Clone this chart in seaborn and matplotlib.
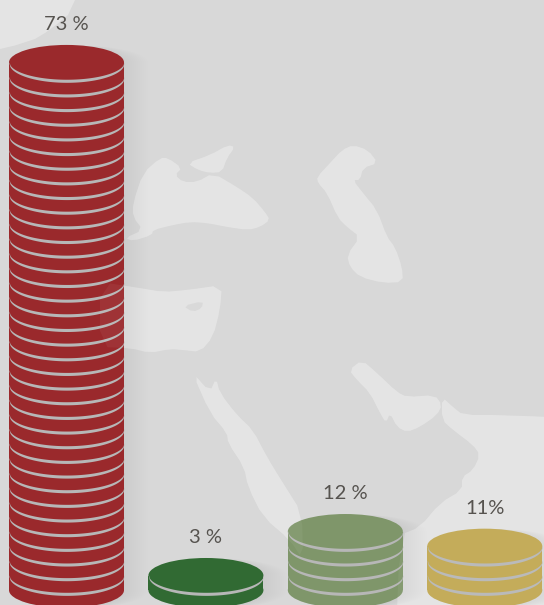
import numpy as np
import pandas as pd
import seaborn as sns
import matplotlib
matplotlib.use("Agg")
import matplotlib.pyplot as plt
from matplotlib.patches import Ellipse, Polygon

# chart values
labels = ["73 %", "3 %", "12 %", "11%"]
coins = [36, 1, 4, 3]
colors = ["#9a292c", "#316a33", "#7f966a", "#c1a852"]

BG = "#d8d8d8"
MAP = "#e3e3e3"
LINE = "#b7b7b7"
TEXT = "#56534f"
W, H = 544, 605

# background map, traced in image pixels (not data)
top_left = [(-30, -30), (78, -30), (74, 10), (50, 30), (30, 42), (-30, 56)]
black_sea = [(125, 238), (143, 230), (133, 217), (133, 203), (143, 173), (160, 158), (168, 158),
             (182, 168), (175, 175), (183, 182), (197, 182), (213, 173), (237, 187), (253, 198),
             (265, 212), (270, 220), (260, 227), (248, 230), (227, 227), (207, 223), (190, 222),
             (173, 225), (153, 230), (152, 235), (133, 241)]
azov = [(187, 163), (210, 155), (228, 145), (235, 147), (227, 158), (222, 172), (210, 173), (198, 170)]
med_sea = [(100, 282), (140, 288), (163, 292), (187, 290), (222, 285), (220, 310), (213, 337),
           (200, 352), (183, 350), (170, 349), (150, 353), (130, 348), (100, 347)]
cyprus = [(183, 306), (203, 301), (202, 308), (193, 312)]
caspian = [(317, 177), (330, 163), (342, 150), (353, 145), (368, 150), (378, 163), (363, 168),
           (360, 180), (353, 180), (363, 193), (377, 210), (387, 237), (395, 247), (402, 267),
           (403, 282), (383, 283), (360, 277), (350, 267), (347, 255), (360, 237), (347, 227),
           (338, 218), (327, 193), (318, 183)]
red_sea = [(192, 372), (210, 392), (216, 378), (220, 393), (237, 415), (253, 430), (267, 457),
           (283, 483), (302, 513), (303, 560), (290, 540), (263, 517), (248, 487), (244, 467),
           (228, 443), (227, 433), (210, 413)]
gulf = [(349, 370), (362, 360), (377, 373), (397, 392), (407, 397), (435, 395), (442, 405),
        (437, 415), (420, 427), (407, 432), (397, 427), (390, 413), (386, 423), (380, 413),
        (370, 393), (357, 380)]
ocean = [(442, 397), (453, 407), (463, 415), (503, 415), (620, 420), (620, 660), (395, 660),
         (400, 535), (420, 527), (440, 503), (462, 490), (462, 477), (473, 470), (480, 455),
         (473, 445), (453, 430), (442, 420)]
map_shapes = [top_left, black_sea, azov, med_sea, caspian, red_sea, gulf, ocean]

df = pd.DataFrame({"label": labels, "coins": coins})

sns.set_theme(style="white")
plt.rcParams["font.family"] = ["Lato", "DejaVu Sans"]

fig, ax = plt.subplots(figsize=(W / 100, H / 100), dpi=100)
fig.subplots_adjust(0, 0, 1, 1)
fig.patch.set_facecolor(BG)
ax.set_facecolor(BG)

sns.barplot(data=df, x="label", y="coins", hue="label", palette=colors, dodge=False,
            legend=False, width=0.825, saturation=1, linewidth=0, zorder=5, ax=ax)
ax.set_xlim(-0.477, 3.425)
ax.set_ylim(-1.012, 40.26)
ax.axis("off")

# one container per hue level, each holding the single bar
bars = [c[0] for c in ax.containers]


# round off the traced corners
def smooth(shape, passes=1):
    pts = np.array(shape, dtype=float)
    for _ in range(passes):
        nxt = np.roll(pts, -1, axis=0)
        pts = np.column_stack([0.75 * pts + 0.25 * nxt, 0.25 * pts + 0.75 * nxt]).reshape(-1, 2)
    return pts


def to_axes(shape):
    pts = smooth(shape)
    return np.column_stack([pts[:, 0] / W, 1 - pts[:, 1] / H])


for shape in map_shapes:
    ax.add_patch(Polygon(to_axes(shape), closed=True, fc=MAP, ec="none", transform=ax.transAxes, zorder=1))
ax.add_patch(Polygon(to_axes(cyprus), closed=True, fc=BG, ec="none", transform=ax.transAxes, zorder=1.1))

# coin face height in coin units
face_h = 2.39

for bar, n, color, label in zip(bars, coins, colors, labels):
    x0 = bar.get_x()
    bw = bar.get_width()
    cx = x0 + bw / 2
    t = np.linspace(-1, 1, 121)
    s = np.sqrt(1 - t ** 2)
    xs = cx + t * bw / 2

    # soft shadow on the right side
    for d in np.linspace(0.01, 0.17, 12):
        sx = x0 + (bw + d) * (t + 1) / 2
        top = n + face_h / 2 * s
        base = -face_h / 2 * s
        ax.fill_between(sx, base, top, color="black", alpha=0.005, lw=0, zorder=2)

    ax.add_patch(Ellipse((cx, 0), bw, face_h, fc=color, ec="none", zorder=5))
    ax.add_patch(Ellipse((cx, n), bw, face_h, fc=color, ec="none", zorder=5))

    # grey rim under each coin's face
    for k in range(1, n + 1):
        upper = k - face_h / 2 * s + 0.05
        lower = k - (face_h / 2 + 0.11) * s - 0.05
        ax.fill_between(xs, lower, upper, color=LINE, lw=0, zorder=6)

    ax.annotate(label, (cx, n + face_h / 2), xytext=(0, 14.5), textcoords="offset points",
                ha="center", va="center", fontsize=14.5, fontweight="normal", color=TEXT, zorder=9)

# map shows faintly through the bars
for shape in map_shapes:
    ax.add_patch(Polygon(to_axes(shape), closed=True, fc="white", ec="none", alpha=0.05,
                         transform=ax.transAxes, zorder=7))

fig.savefig("out.png", dpi=100, facecolor=BG)
